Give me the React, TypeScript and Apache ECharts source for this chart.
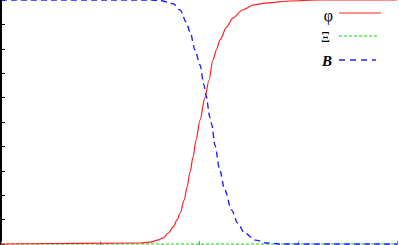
import React, { useEffect, useRef } from "react";
import * as echarts from "echarts";

const phiX = [0, 1.4, 1.51, 1.58, 1.64, 1.69, 1.74, 1.78, 1.81, 1.85, 1.88, 1.91, 1.94, 1.97, 2.01, 2.06, 2.1, 2.14, 2.18, 2.21, 2.28, 2.34, 2.44, 2.55, 2.69, 2.92, 3.22, 4];
const phiY = [0, 0.004, 0.008, 0.016, 0.025, 0.045, 0.07, 0.1, 0.127, 0.18, 0.234, 0.295, 0.357, 0.426, 0.508, 0.6, 0.67, 0.754, 0.8, 0.836, 0.89, 0.926, 0.959, 0.98, 0.988, 0.996, 1, 1];

const bX = [0, 1.5, 1.61, 1.68, 1.74, 1.81, 1.87, 1.91, 1.96, 2.01, 2.05, 2.07, 2.11, 2.13, 2.16, 2.21, 2.26, 2.33, 2.39, 2.46, 2.57, 2.69, 2.82, 4];
const bY = [1, 1, 0.998, 0.992, 0.984, 0.959, 0.91, 0.869, 0.795, 0.734, 0.652, 0.61, 0.52, 0.488, 0.406, 0.303, 0.221, 0.139, 0.086, 0.045, 0.016, 0.004, 0, 0];

const xiX = [0, 4];
const xiY = [0, 0];

const legendNames = ["φ", "Ξ", "B"];

const zip = (xs: number[], ys: number[]) => xs.map((x, i) => [x, ys[i]]);

export default function App() {
  const ref = useRef<HTMLDivElement>(null);
  useEffect(() => {
    document.body.style.margin = "0";
    const chart = echarts.init(ref.current!, null, { renderer: "svg" });
    const tickStyle = { color: "#000", width: 1 };
    const xCommon = {
      type: "value" as const,
      min: 0,
      max: 4,
      interval: 1,
      axisLabel: { show: false },
      splitLine: { show: false },
      axisLine: { show: false },
      axisTick: { show: true, inside: true, length: 3, lineStyle: { color: "#888", width: 1 } },
    };
    const yCommon = {
      type: "value" as const,
      min: 0,
      max: 1,
      interval: 0.1,
      axisLabel: { show: false },
      splitLine: { show: false },
      axisLine: { show: true, lineStyle: { color: "#000", width: 2 } },
      axisTick: { show: true, inside: true, length: 4, lineStyle: tickStyle },
    };
    const serif = "'Liberation Serif', 'DejaVu Serif', serif";
    const lx1 = 339;
    chart.setOption({
      animation: false,
      grid: { left: 1, right: 2, top: 0, bottom: 1 },
      xAxis: [
        { ...xCommon, position: "bottom" },
        { ...xCommon, position: "top" },
      ],
      yAxis: [
        { ...yCommon, position: "left" },
        { ...yCommon, position: "right" },
      ],
      series: [
        {
          name: legendNames[1],
          type: "line",
          data: zip(xiX, xiY),
          showSymbol: false,
          clip: false,
          lineStyle: { color: "#00dd00", width: 1.2, type: [3, 2] },
        },
        {
          name: legendNames[0],
          type: "line",
          data: zip(phiX, phiY),
          showSymbol: false,
          smooth: 0.3,
          smoothMonotone: "x",
          clip: false,
          lineStyle: { color: "#ff2020", width: 1.2 },
        },
        {
          name: legendNames[2],
          type: "line",
          data: zip(bX, bY),
          showSymbol: false,
          smooth: 0.3,
          smoothMonotone: "x",
          clip: false,
          lineStyle: { color: "#2020ff", width: 1.4, type: [6, 4] },
        },
      ],
      graphic: [
        {
          type: "text",
          x: 333,
          y: 15,
          style: { text: legendNames[0], fill: "#000", font: `16px ${serif}`, align: "right", verticalAlign: "middle" },
        },
        {
          type: "line",
          shape: { x1: lx1, y1: 13, x2: 381, y2: 13 },
          style: { stroke: "#ff2020", lineWidth: 1.2 },
        },
        {
          type: "text",
          x: 330,
          y: 37,
          style: { text: legendNames[1], fill: "#000", font: `14px ${serif}`, align: "right", verticalAlign: "middle" },
        },
        {
          type: "line",
          shape: { x1: lx1, y1: 36, x2: 379, y2: 36 },
          style: { stroke: "#00dd00", lineWidth: 1.2, lineDash: [3, 2] },
        },
        {
          type: "text",
          x: 332,
          y: 61,
          style: { text: legendNames[2], fill: "#000", font: `italic bold 15px ${serif}`, align: "right", verticalAlign: "middle" },
        },
        {
          type: "line",
          shape: { x1: lx1, y1: 60, x2: 376, y2: 60 },
          style: { stroke: "#2020ff", lineWidth: 1.4, lineDash: [6, 5] },
        },
      ],
    });
    return () => chart.dispose();
  }, []);
  return <div ref={ref} style={{ width: 399, height: 245 }} />;
}
